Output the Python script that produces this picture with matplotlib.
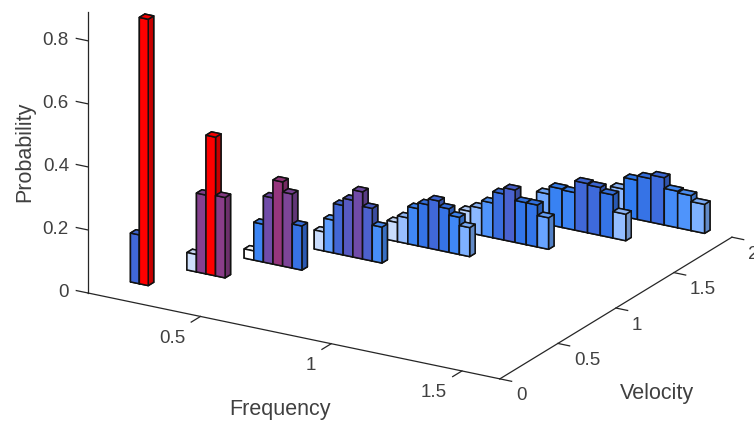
import matplotlib
matplotlib.use('Agg')
import matplotlib.pyplot as plt
from matplotlib.colors import LinearSegmentedColormap, to_rgb
import numpy as np

plt.rcParams['font.family'] = ['Liberation Sans', 'DejaVu Sans']

# Front edge of each row of bars on the velocity axis
velocity = [0.21, 0.46, 0.71, 0.96, 1.22, 1.47, 1.73, 1.98]
bar_depth = 0.047

# Left edge of first bar in each row, and the bin width of the row
freq_start = [0.139, 0.244, 0.352, 0.509, 0.673, 0.838, 1.018, 1.190]
freq_step = [0.034, 0.0365, 0.0368, 0.037, 0.0394, 0.0426, 0.0487, 0.0513]

# Probabilities, one list per row
heights = [
    [0.155, 0.845],
    [0.055, 0.25, 0.44, 0.255],
    [0.029, 0.12, 0.21, 0.267, 0.235, 0.14],
    [0.06, 0.104, 0.157, 0.18, 0.213, 0.167, 0.114],
    [0.060, 0.082, 0.118, 0.137, 0.156, 0.138, 0.118, 0.092],
    [0.068, 0.086, 0.110, 0.146, 0.166, 0.133, 0.133, 0.100],
    [0.097, 0.122, 0.119, 0.156, 0.152, 0.137, 0.084],
    [0.087, 0.124, 0.138, 0.150, 0.116, 0.111, 0.092],
]

freq_ticks = [0.5, 1, 1.5]
vel_ticks = [0, 0.5, 1, 1.5, 2]
prob_ticks = [0, 0.2, 0.4, 0.6, 0.8]
freq_lim = (0.07, 1.645)
vel_lim = (0, 2)
prob_lim = (0, 0.892)

# colour by height, white for small bars up to red for tall ones
vmax = 0.44
nodes = [(0.0, '#ffffff'), (0.03, '#ffffff'), (0.06, '#c6dafc'), (0.085, '#8fbaff'),
         (0.105, '#5b9dff'), (0.125, '#2f7bf0'), (0.155, '#4068d8'), (0.20, '#6a4fb0'),
         (0.25, '#85408e'), (0.27, '#98357a'), (0.44, '#ff0000')]
cmap = LinearSegmentedColormap.from_list('prob', [(v / vmax, c) for v, c in nodes])

fig = plt.figure(figsize=(7.54, 4.21), dpi=100)
ax = fig.add_axes([22.8 / 754, -90.7 / 421, 754 / 754, 754 / 421], projection='3d')
ax.set_proj_type('ortho')
ax.view_init(elev=20.9, azim=-59.7)
ax.set_xlim(freq_lim)
ax.set_ylim(vel_lim)
ax.set_zlim(prob_lim)
ax.set_box_aspect((477, 460, 301), zoom=0.937)
ax.set_xticks([])
ax.set_yticks([])
ax.set_zticks([])
ax.set_axis_off()
ax.computed_zorder = False

line_col = '#262626'
text_col = '#404040'

# axis lines and ticks, they sit under the bars
def line3(xs, ys, zs):
    ax.plot(xs, ys, zs, color=line_col, lw=0.9, zorder=1, clip_on=False)

line3([freq_lim[0]] * 2, [0, 0], prob_lim)
line3(freq_lim, [0, 0], [0, 0])
line3([freq_lim[1]] * 2, vel_lim, [0, 0])

for f in freq_ticks:
    line3([f, f], [0, -0.08], [0, 0])
    ax.text(f + 0.060, -0.265, 0, str(f), ha='right', va='center', color=text_col, fontsize=13.5)
for v in vel_ticks:
    line3([freq_lim[1], freq_lim[1] + 0.045], [v, v], [0, 0])
    ax.text(freq_lim[1] + 0.126, v - 0.145, 0, str(v), ha='left', va='center', color=text_col, fontsize=13.5)
for p in prob_ticks:
    line3([freq_lim[0], freq_lim[0] - 0.045], [0, 0], [p, p])
    ax.text(freq_lim[0] - 0.055, -0.041, p, str(p), ha='right', va='center', color=text_col, fontsize=13.5)

# back row first, left to right inside a row, so nearer bars cover farther ones
order = 10
for i in range(len(velocity) - 1, -1, -1):
    step = freq_step[i]
    for j, h in enumerate(heights[i]):
        base = np.array(to_rgb(cmap(min(h / vmax, 1.0))))
        # faces: bottom, top, front, back, left, right
        faces = [base, base * 0.95, base, base, base, base * 0.78]
        ax.bar3d(freq_start[i] + j * step, velocity[i], 0, step, bar_depth, h,
                 color=faces, edgecolor='#111111', linewidth=1.1, shade=False, zorder=order)
        order += 1

fig.text(280 / 754, 1 - 409.5 / 421, 'Frequency', ha='center', va='center', color=text_col, fontsize=15.5)
fig.text(657 / 754, 1 - 394 / 421, 'Velocity', ha='center', va='center', color=text_col, fontsize=15.5)
fig.text(25 / 754, 1 - 152 / 421, 'Probability', ha='center', va='center', rotation=90, color=text_col, fontsize=15.5)

fig.savefig('out.png', dpi=100, facecolor='white')
